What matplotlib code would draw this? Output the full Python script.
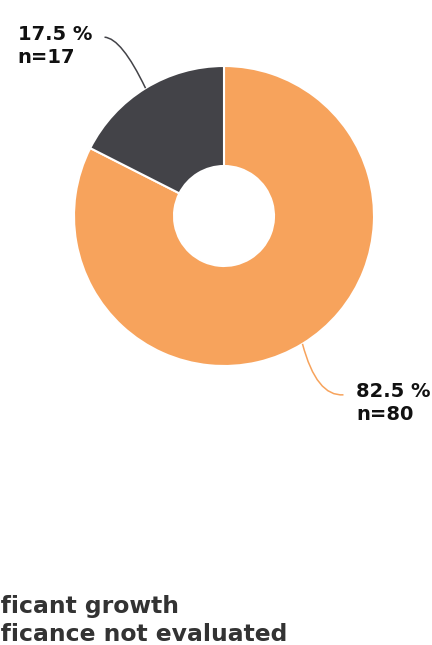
import matplotlib.pyplot as plt
import numpy as np
from matplotlib.path import Path
from matplotlib.patches import PathPatch

W, H = 432, 645

# slice data
categories = ["Significant growth", "Significance not evaluated"]
counts = [80, 17]
colors = ["#f7a35c", "#434348"]

CENTER = (224, H - 216)
R_OUT = 150
R_IN = 50


def main():
    fig = plt.figure(figsize=(W / 100, H / 100), dpi=100)
    ax = fig.add_axes([0, 0, 1, 1])

    ax.pie(counts, colors=colors, startangle=90, counterclock=False,
           center=CENTER, radius=R_OUT,
           wedgeprops=dict(width=R_OUT - R_IN, edgecolor="white", linewidth=1.5))
    ax.set_xlim(0, W)
    ax.set_ylim(0, H)
    ax.set_aspect("equal")
    ax.axis("off")

    total = sum(counts)
    cum = np.cumsum(counts)
    # connector end and label corner (relative to the slice edge point)
    layouts = [
        dict(end=(41, -51), ctrl=(14, -53), text=(54, -38), ha="left"),
        dict(end=(-41, 51), ctrl=(-24, 50), text=(-128, 63), ha="left"),
    ]
    for i, n in enumerate(counts):
        frac_mid = (cum[i] - n / 2) / total
        ang = np.deg2rad(90 - 360 * frac_mid)
        px = CENTER[0] + R_OUT * np.cos(ang)
        py = CENTER[1] + R_OUT * np.sin(ang)
        lay = layouts[i]
        ex, ey = px + lay["end"][0], py + lay["end"][1]
        cx, cy = px + lay["ctrl"][0], py + lay["ctrl"][1]
        path = Path([(px, py), (cx, cy), (ex, ey)],
                    [Path.MOVETO, Path.CURVE3, Path.CURVE3])
        ax.add_patch(PathPatch(path, fill=False, edgecolor=colors[i], lw=1.1))
        pct = 100 * n / total
        ax.text(px + lay["text"][0], py + lay["text"][1],
                f"{pct:.1f} %\nn={n}", ha=lay["ha"], va="top",
                fontsize=14, fontweight="bold", color="#111111",
                family="DejaVu Sans", linespacing=1.25)

    # legend text, partly running off the left edge
    for j, label in enumerate(categories):
        fig.text(-66 / W, 1 - (613 + 28 * j) / H, label, ha="left",
                 va="baseline", fontsize=16.9, fontweight="bold",
                 color="#333333", family="DejaVu Sans")

    fig.savefig("out.png", dpi=100)


main()
